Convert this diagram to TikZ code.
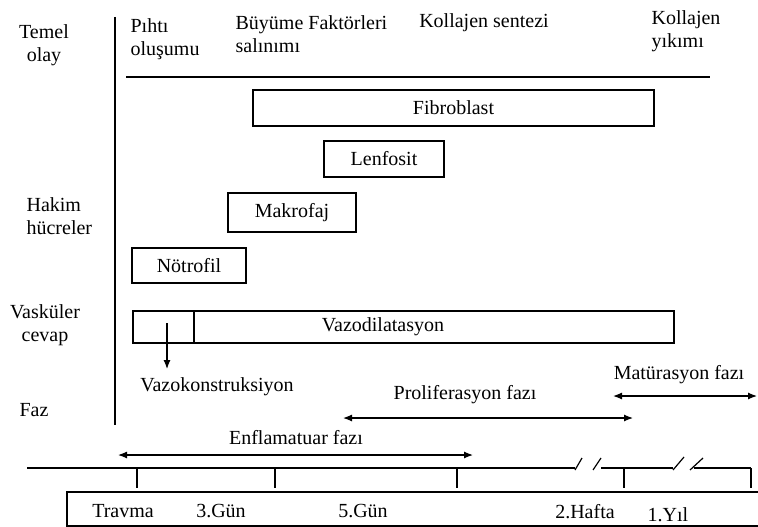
\documentclass[tikz,border=0pt]{standalone}
\usepackage{fontspec}
\setmainfont{Liberation Serif}
\usetikzlibrary{arrows.meta}

\tikzset{cellbox/.style={draw, rectangle, inner sep=0pt},
  lbl/.style={inner sep=0pt, align=center},
  lbll/.style={inner sep=0pt, align=left, anchor=west},
  fazarrow/.style={{Latex[length=9pt,width=7pt]}-{Latex[length=9pt,width=7pt]}}}

\begin{document}
\begin{tikzpicture}[x=1pt, y=-1pt, line width=1.2pt, font=\fontsize{20}{23}\selectfont]
  \useasboundingbox (0,0) rectangle (758,527);
  % axes
    \coordinate (axtop) at (115,17);
    \coordinate (axbot) at (115,425);
    \coordinate (hl) at (126,77);
    \coordinate (hr) at (710,77);
  \draw (axtop) -- (axbot) ; % vertical axis
  \draw (hl) -- (hr) ; % under the events
  % row labels
  \node[lbl] (temel) at (44,45) {Temel\\olay};
  \node[lbll] (hakim) at (26,216) {Hakim\\hücreler};
  \node[lbl] (vask) at (45,325) {Vasküler\\cevap};
  \node[lbl] (faz) at (34,410) {Faz};
  % events
  \node[lbll] (pihti) at (130,39) {Pıhtı\\oluşumu};
  \node[lbll] (buyume) at (235,34) {Büyüme Faktörleri\\salınımı};
  \node[lbl] (kolsen) at (484,23) {Kollajen sentezi};
  \node[lbll] (kolyik) at (651,31) {Kollajen\\yıkımı};
  % cells
  \node[cellbox, minimum width=401pt, minimum height=36pt] (fibro) at (453.5,108) {Fibroblast};
  \node[cellbox, minimum width=120pt, minimum height=36pt] (lenfo) at (384,159) {Lenfosit};
  \node[cellbox, minimum width=128pt, minimum height=39pt] (makro) at (292,212.5) {Makrofaj};
  \node[cellbox, minimum width=114pt, minimum height=35pt] (notro) at (189,265.5) {Nötrofil};
  % vascular response
  \node[cellbox, minimum width=541pt, minimum height=32pt] (vaso) at (403.5,327) {};
  \node[lbl] (vazod) at (383,327) {Vazodilatasyon};
    \coordinate (divt) at (194,311);
    \coordinate (divb) at (194,343);
  \draw (divt) -- (divb) ;
    \coordinate (vkstart) at (167,323);
    \coordinate (vkend) at (167,369);
  \draw [-{Latex[length=9pt,width=7pt]}] (vkstart) -- (vkend) ;
  \node[lbl] (vazok) at (217,387) {Vazokonstruksiyon};
  % phases
  \node[lbl] (prolif) at (465,395) {Proliferasyon fazı};
    \coordinate (p1) at (343,418);
    \coordinate (p2) at (633,418);
  \draw [fazarrow] (p1) -- (p2) ;
  \node[lbl] (matur) at (679,375) {Matürasyon fazı};
    \coordinate (m1) at (613,396);
    \coordinate (m2) at (757,396);
  \draw [fazarrow] (m1) -- (m2) ;
  \node[lbl] (enfla) at (296,438) {Enflamatuar fazı};
    \coordinate (e1) at (118,455);
    \coordinate (e2) at (473,455);
  \draw [fazarrow] (e1) -- (e2) ;
  % time line with breaks
  \draw (27,468) -- (575,468) ;
  \draw (575,470) -- (582,458) ;
  \draw (593,470) -- (601,458) ;
  \draw (601,468) -- (673,468) ;
  \draw (673,470) -- (684,457) ;
  \draw (690,470) -- (703,458) ;
  \draw (694,468) -- (751,468) ;
  \foreach \x in {137,275,457,624,751}
    \draw (\x,468) -- (\x,488) ;
  % days
  \draw (758,492) -- (67,492) -- (67,526) -- (758,526) ;
  \node[lbl] (travma) at (123,511) {Travma};
  \node[lbl] (gun3) at (221,511) {3.Gün};
  \node[lbl] (gun5) at (363,511) {5.Gün};
  \node[lbl] (hafta) at (585,512) {2.Hafta};
  \node[lbl] (yil) at (668,515) {1.Yıl};
\end{tikzpicture}
\end{document}
